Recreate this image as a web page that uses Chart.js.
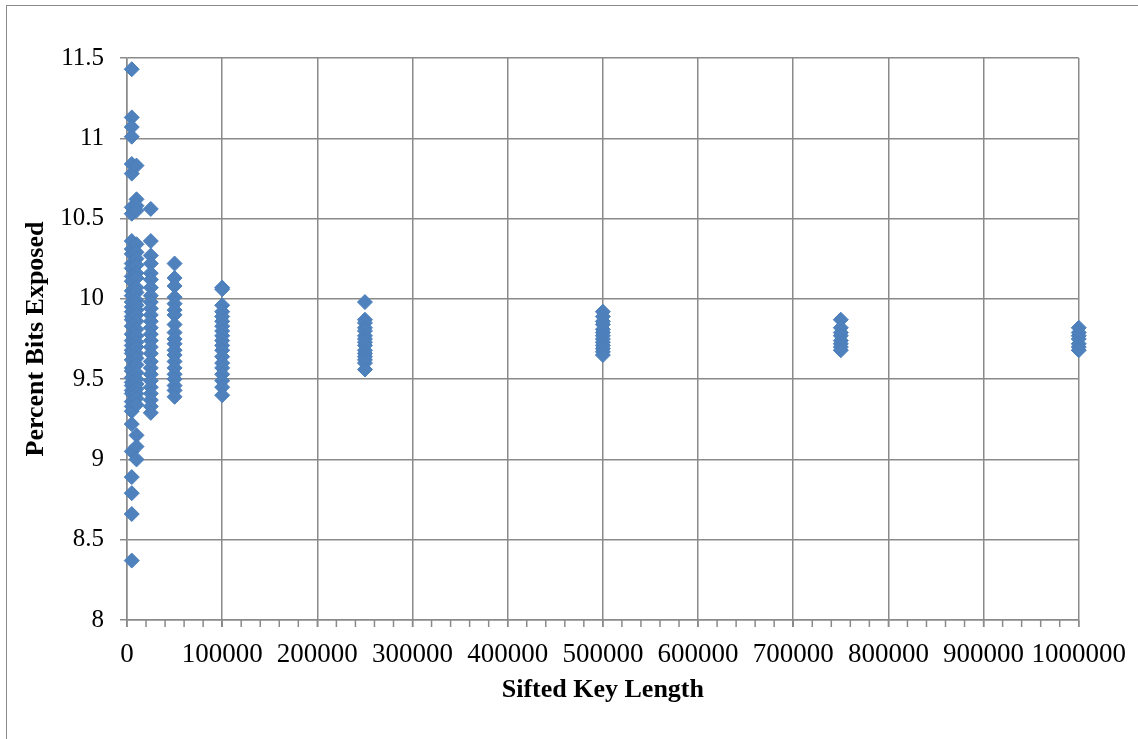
<!DOCTYPE html>
<html>
<head>
<meta charset="utf-8">
<script src="https://cdn.jsdelivr.net/npm/chart.js@4.4.1/dist/chart.umd.min.js"></script>
<style>
  html, body { margin: 0; padding: 0; background: #fff; }
  #wrap { position: relative; width: 1138px; height: 739px; }
  canvas { display: block; }
</style>
</head>
<body>
<div id="wrap"><canvas id="c" width="1138" height="739"></canvas></div>
<script>
// Sifted key lengths tested
const keyLengths = [5000, 10000, 25000, 50000, 100000, 250000, 500000, 750000, 1000000];

// Percent of bits exposed per run, one array per key length
const runs5000 = [11.43, 11.13, 11.07, 11.01, 10.84, 10.78, 10.57, 10.53, 10.36, 10.31, 10.28, 10.22,
  10.19, 10.14, 10.11, 10.05, 10.02, 9.98, 9.95, 9.92, 9.89, 9.87, 9.83, 9.78, 9.74, 9.71, 9.68,
  9.66, 9.62, 9.57, 9.55, 9.51, 9.48, 9.46, 9.43, 9.41, 9.36, 9.33, 9.30, 9.22, 9.05, 8.89, 8.79,
  8.66, 8.37];
const runs10000 = [10.83, 10.62, 10.58, 10.55, 10.34, 10.29, 10.25, 10.21, 10.16, 10.13, 10.07, 10.04,
  9.99, 9.96, 9.93, 9.90, 9.86, 9.81, 9.77, 9.73, 9.70, 9.66, 9.63, 9.59, 9.54, 9.50, 9.47, 9.44,
  9.41, 9.38, 9.34, 9.15, 9.08, 9.00];
const runs25000 = [10.56, 10.36, 10.27, 10.22, 10.16, 10.12, 10.07, 10.02, 9.98, 9.94, 9.90, 9.86,
  9.82, 9.78, 9.74, 9.70, 9.66, 9.61, 9.57, 9.53, 9.49, 9.45, 9.41, 9.37, 9.33, 9.29];
const runs50000 = [10.22, 10.13, 10.08, 10.01, 9.97, 9.93, 9.90, 9.84, 9.79, 9.75, 9.72, 9.68, 9.65,
  9.61, 9.57, 9.53, 9.50, 9.46, 9.43, 9.39];
const runs100000 = [10.07, 10.06, 9.96, 9.92, 9.89, 9.86, 9.83, 9.80, 9.77, 9.74, 9.71, 9.68, 9.64,
  9.60, 9.57, 9.53, 9.49, 9.45, 9.40];
const runs250000 = [9.98, 9.87, 9.85, 9.82, 9.80, 9.77, 9.75, 9.73, 9.71, 9.68, 9.66, 9.64, 9.62,
  9.60, 9.56];
const runs500000 = [9.92, 9.89, 9.86, 9.84, 9.81, 9.79, 9.77, 9.75, 9.73, 9.71, 9.69, 9.67, 9.65];
const runs750000 = [9.87, 9.82, 9.79, 9.77, 9.74, 9.72, 9.70, 9.68];
const runs1000000 = [9.82, 9.79, 9.77, 9.75, 9.72, 9.70, 9.68];

// Axis tick values
const xTicks = [0, 100000, 200000, 300000, 400000, 500000, 600000, 700000, 800000, 900000, 1000000];
const yTicks = [8, 8.5, 9, 9.5, 10, 10.5, 11, 11.5];

const runsByLength = [runs5000, runs10000, runs25000, runs50000, runs100000,
  runs250000, runs500000, runs750000, runs1000000];

const points = [];
keyLengths.forEach((len, i) => {
  runsByLength[i].forEach(v => points.push({ x: len, y: v }));
});

const GRID = '#8a8a8a';
const SERIF = '"Liberation Serif", "Times New Roman", serif';

// Outer frame and the minor tick marks along the x axis
const decorations = {
  id: 'decorations',
  beforeDraw(chart) {
    const ctx = chart.ctx;
    ctx.save();
    ctx.strokeStyle = GRID;
    ctx.lineWidth = 1;
    ctx.strokeRect(6.5, 5.5, 1200, 800);
    ctx.restore();
  },
  afterDraw(chart) {
    const ctx = chart.ctx;
    const xs = chart.scales.x;
    const bottom = chart.chartArea.bottom;
    ctx.save();
    ctx.strokeStyle = GRID;
    ctx.lineWidth = 1.5;
    for (let v = xs.min; v <= xs.max; v += 20000) {
      const px = xs.getPixelForValue(v);
      ctx.beginPath();
      ctx.moveTo(px, bottom);
      ctx.lineTo(px, bottom + 7);
      ctx.stroke();
    }
    ctx.restore();
  }
};

new Chart(document.getElementById('c'), {
  type: 'scatter',
  data: {
    datasets: [{
      data: points,
      clip: false,
      pointStyle: 'rectRot',
      pointRadius: 7.5,
      pointHoverRadius: 7.5,
      backgroundColor: '#4f81bd',
      borderColor: '#4a7ebb',
      borderWidth: 1
    }]
  },
  options: {
    responsive: false,
    animation: false,
    layout: { padding: { top: 58, right: 58, bottom: 0, left: 0 } },
    plugins: { legend: { display: false }, tooltip: { enabled: false } },
    scales: {
      x: {
        type: 'linear',
        min: 0,
        max: 1000000,
        afterFit(scale) { scale.height = 119; },
        afterBuildTicks(scale) { scale.ticks = xTicks.map(v => ({ value: v })); },
        ticks: {
          autoSkip: false,
          maxRotation: 0,
          padding: 12,
          color: '#000',
          font: { family: SERIF, size: 27 },
          callback: v => String(v)
        },
        grid: { color: GRID, lineWidth: 1.5, tickLength: 7, drawTicks: true },
        border: { color: GRID, width: 1.5 },
        title: {
          display: true,
          text: 'Sifted Key Length',
          color: '#000',
          font: { family: SERIF, size: 26, weight: 'bold' },
          padding: { top: 0, bottom: 33 }
        }
      },
      y: {
        type: 'linear',
        min: 8,
        max: 11.5,
        afterFit(scale) { scale.width = 127; },
        afterBuildTicks(scale) { scale.ticks = yTicks.map(v => ({ value: v })); },
        ticks: {
          padding: 16,
          color: '#000',
          font: { family: SERIF, size: 25 },
          callback: v => String(v)
        },
        grid: { color: GRID, lineWidth: 1.5, tickLength: 7, drawTicks: true },
        border: { color: GRID, width: 1.5 },
        title: {
          display: true,
          text: 'Percent Bits Exposed',
          color: '#000',
          font: { family: SERIF, size: 26, weight: 'bold' },
          padding: { top: 21, bottom: 0 }
        }
      }
    }
  },
  plugins: [decorations]
});
</script>
</body>
</html>
